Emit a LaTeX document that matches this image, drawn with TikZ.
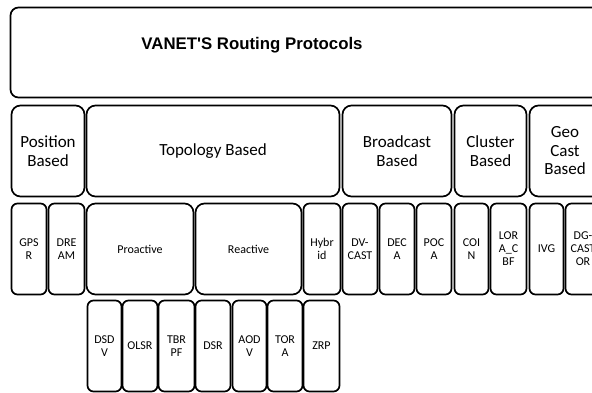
\documentclass[tikz,border=0pt]{standalone}
\usepackage{fontspec}
\setmainfont{Carlito}
\newfontfamily\titlefont{Liberation Sans}

\begin{document}
\begin{tikzpicture}[x=1pt, y=-1pt,
box/.style ={draw, line width=1.7pt, inner sep=0pt, align=center},
root/.style ={box, rounded corners=8pt, minimum width=591pt, minimum height=90pt},
title/.style ={font=\titlefont\bfseries\fontsize{16.8}{19}\selectfont},
group/.style ={box, rounded corners=9pt, minimum height=91pt, font=\fontsize{17}{18.5}\selectfont},
leaf/.style ={box, rounded corners=6pt, minimum height=91pt, font=\fontsize{12}{13}\selectfont}]

\useasboundingbox (0, 0) rectangle (592, 392);
\clip (0, 0) rectangle (592, 392);

\node[root] (root) at (306, 52.5) {};
\node[title] (title) at (252, 45) {VANET'S Routing Protocols};

% second row
\node[group, minimum width=73pt] (position) at (48, 151) {Position\\Based};
\node[group, minimum width=253pt] (topology) at (213, 151) {Topology Based};
\node[group, minimum width=109pt] (broadcast) at (397, 151) {Broadcast\\Based};
\node[group, minimum width=72pt] (cluster) at (490.5, 151) {Cluster\\Based};
\node[group, minimum width=71pt] (geocast) at (565, 151) {Geo\\Cast\\Based};

% third row
\node[leaf, minimum width=35pt] (gpsr) at (29, 249) {GPS\\R};
\node[leaf, minimum width=36pt] (dream) at (66.5, 249) {DRE\\AM};
\node[leaf, minimum width=107pt, rounded corners=9pt] (proactive) at (140, 249) {Proactive};
\node[leaf, minimum width=106pt, rounded corners=9pt] (reactive) at (248.5, 249) {Reactive};
\node[leaf, minimum width=37pt] (hybrid) at (322, 249) {Hybr\\id};
\node[leaf, minimum width=35pt] (dvcast) at (360, 249) {DV-\\CAST};
\node[leaf, minimum width=35pt] (deca) at (397, 249) {DEC\\A};
\node[leaf, minimum width=35pt] (poca) at (434, 249) {POC\\A};
\node[leaf, minimum width=34pt] (coin) at (471.5, 249) {COI\\N};
\node[leaf, minimum width=36pt] (lora) at (508.5, 249) {LOR\\A\_C\\BF};
\node[leaf, minimum width=34pt] (ivg) at (546.5, 249) {IVG};
\node[leaf, minimum width=35pt] (dgcastor) at (583, 249) {DG-\\CAST\\OR};

% fourth row
\node[leaf, minimum width=34pt] (dsdv) at (104.5, 346) {DSD\\V};
\node[leaf, minimum width=35pt] (olsr) at (140, 346) {OLSR};
\node[leaf, minimum width=36pt] (tbrpf) at (176.5, 346) {TBR\\PF};
\node[leaf, minimum width=35pt] (dsr) at (213, 346) {DSR};
\node[leaf, minimum width=34pt] (aodv) at (249.5, 346) {AOD\\V};
\node[leaf, minimum width=35pt] (tora) at (285, 346) {TOR\\A};
\node[leaf, minimum width=36pt] (zrp) at (321.5, 346) {ZRP};

\end{tikzpicture}
\end{document}
